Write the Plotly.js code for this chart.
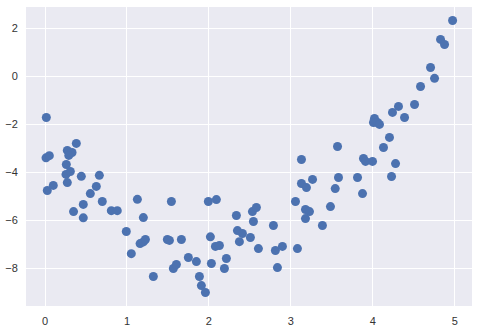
<!DOCTYPE html>
<html>
<head>
<meta charset="utf-8">
<script src="https://cdn.plot.ly/plotly-3.0.1.min.js"></script>
<style>html,body{margin:0;padding:0;background:#fff;}#chart{width:479px;height:330px;}</style>
</head>
<body>
<div id="chart"></div>
<script>
const xValues = [0.016,0.012,0.053,0.028,0.101,0.260,0.256,0.309,0.272,0.330,
  0.290,0.382,0.272,0.443,0.663,0.626,0.553,0.699,0.467,0.348,
  0.467,0.809,0.882,1.127,1.200,0.992,1.160,1.200,1.225,1.053,
  1.322,1.542,1.493,1.518,1.664,1.749,1.847,1.566,1.603,1.884,
  1.908,1.957,1.993,2.091,2.018,2.079,2.128,2.030,2.213,2.189,
  2.335,2.531,2.579,2.543,2.348,2.409,2.372,2.506,2.604,2.787,
  2.811,2.897,3.080,2.836,3.056,3.129,3.190,3.264,3.178,3.227,
  3.178,3.385,3.483,3.541,3.129,3.581,3.569,3.813,3.874,3.886,
  3.911,3.996,4.020,4.008,4.057,4.081,4.130,4.203,4.228,4.277,
  4.240,4.313,4.387,4.509,4.582,4.704,4.753,4.826,4.875,4.973];
const yValues = [-1.71,-3.39,-3.30,-4.75,-4.54,-3.67,-4.08,-3.96,-3.08,-3.17,
  -3.29,-2.79,-4.42,-4.16,-4.12,-4.58,-4.88,-5.21,-5.33,-5.63,
  -5.89,-5.59,-5.59,-5.12,-5.88,-6.46,-6.96,-6.89,-6.79,-7.38,
  -8.33,-5.21,-6.79,-6.83,-6.79,-7.54,-7.71,-8.00,-7.83,-8.33,
  -8.71,-9.00,-5.21,-5.13,-6.68,-7.08,-7.04,-7.79,-7.58,-8.00,
  -5.79,-5.63,-5.46,-6.04,-6.42,-6.54,-6.88,-6.71,-7.17,-6.21,
  -7.25,-7.08,-7.17,-7.96,-5.21,-4.46,-4.63,-4.29,-5.54,-5.63,
  -5.92,-6.21,-5.42,-4.67,-3.46,-4.21,-2.92,-4.21,-4.88,-3.42,
  -3.54,-3.54,-1.75,-1.92,-1.92,-2.00,-2.96,-2.54,-4.17,-3.63,
  -1.50,-1.25,-1.71,-1.17,-0.42,0.37,-0.08,1.54,1.33,2.33];
const xTicks = [0,1,2,3,4,5];
const yTicks = [-8,-6,-4,-2,0,2];

const trace = {
  x: xValues, y: yValues, type: 'scatter', mode: 'markers',
  marker: {color: '#4C72B0', size: 9, line: {width: 0}},
  hoverinfo: 'none'
};
const axisCommon = {
  showgrid: true, gridcolor: '#ffffff', gridwidth: 1,
  zeroline: false, showline: false,
  ticks: 'outside', ticklen: 5, tickcolor: 'rgba(0,0,0,0)',
  tickfont: {family: 'Liberation Sans, Arial, sans-serif', size: 11, color: '#333333'}
};
const layout = {
  width: 479, height: 330,
  margin: {l: 26, r: 7, t: 7, b: 24},
  paper_bgcolor: '#ffffff', plot_bgcolor: '#EAEAF2',
  showlegend: false,
  xaxis: Object.assign({}, axisCommon, {range: [-0.232, 5.21], tickvals: xTicks, ticktext: xTicks.map(String)}),
  yaxis: Object.assign({}, axisCommon, {range: [-9.56, 2.89], tickvals: yTicks, ticktext: yTicks.map(v => v < 0 ? '\u2212' + Math.abs(v) : String(v))})
};
Plotly.newPlot('chart', [trace], layout, {staticPlot: true, displayModeBar: false});
</script>
</body>
</html>
